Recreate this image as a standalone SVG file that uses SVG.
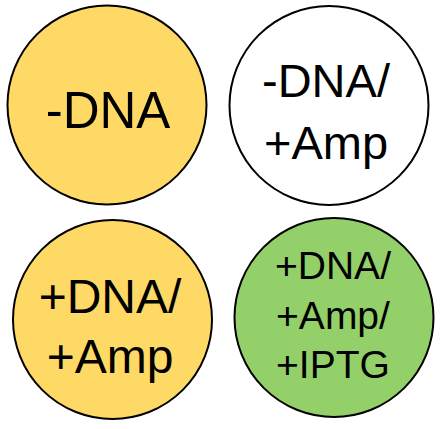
<svg xmlns="http://www.w3.org/2000/svg" width="442" height="429" viewBox="0 0 442 429">
<style>
.c{stroke:#000;stroke-width:2}
.y{fill:#FFD966}
.w{fill:#FFFFFF}
.g{fill:#93D06A}
text{font-family:"Liberation Sans",Arial,sans-serif;fill:#000;text-anchor:middle}
</style>
<rect width="442" height="429" fill="#fff"/>
<g id="n1">
<circle class="c y" cx="107" cy="105" r="99.5"/>
<text x="108" y="127.5" font-size="51">-DNA</text>
</g>
<g id="n2">
<circle class="c w" cx="329" cy="105.5" r="99.5"/>
<text font-size="47"><tspan x="326" y="97">-DNA/</tspan><tspan x="326" y="159">+Amp</tspan></text>
</g>
<g id="n3">
<circle class="c y" cx="112.5" cy="319.5" r="99.5"/>
<text font-size="48"><tspan x="110" y="313">+DNA/</tspan><tspan x="110" y="373">+Amp</tspan></text>
</g>
<g id="n4">
<circle class="c g" cx="334" cy="317.5" r="99.5"/>
<text font-size="39"><tspan x="333" y="279">+DNA/</tspan><tspan x="333" y="328.5">+Amp/</tspan><tspan x="333" y="378">+IPTG</tspan></text>
</g>
<g id="connectors"></g>
</svg>
